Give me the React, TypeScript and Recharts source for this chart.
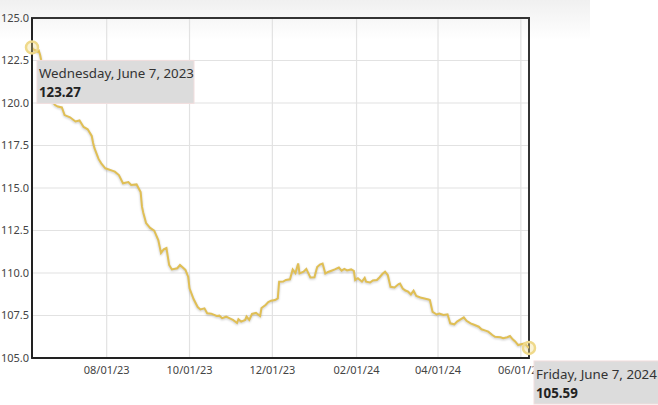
import React from 'react';
import { LineChart, Line, XAxis, YAxis, CartesianGrid, ReferenceDot, ReferenceArea } from 'recharts';

const dates = [
  '2023-06-07','2023-06-08','2023-06-09','2023-06-11','2023-06-12','2023-06-13','2023-06-14','2023-06-15','2023-06-17','2023-06-18',
  '2023-06-21','2023-06-24','2023-06-26','2023-06-29','2023-07-01','2023-07-05','2023-07-09','2023-07-12','2023-07-15','2023-07-18',
  '2023-07-21','2023-07-22','2023-07-23','2023-07-26','2023-07-28','2023-07-31','2023-08-05','2023-08-07','2023-08-10','2023-08-13',
  '2023-08-17','2023-08-19','2023-08-23','2023-08-26','2023-08-27','2023-08-28','2023-08-30','2023-09-02','2023-09-05','2023-09-08',
  '2023-09-10','2023-09-12','2023-09-14','2023-09-16','2023-09-18','2023-09-22','2023-09-24','2023-09-28','2023-09-30','2023-10-01',
  '2023-10-04','2023-10-07','2023-10-09','2023-10-12','2023-10-14','2023-10-17','2023-10-21','2023-10-23','2023-10-25','2023-10-28',
  '2023-10-31','2023-11-02','2023-11-05','2023-11-06','2023-11-08','2023-11-11','2023-11-12','2023-11-14','2023-11-16','2023-11-19',
  '2023-11-22','2023-11-23','2023-11-26','2023-11-28','2023-11-30','2023-12-03','2023-12-05','2023-12-06','2023-12-09','2023-12-11',
  '2023-12-14','2023-12-16','2023-12-18','2023-12-20','2023-12-21','2023-12-24','2023-12-26','2023-12-29','2024-01-01','2024-01-03',
  '2024-01-05','2024-01-07','2024-01-09','2024-01-11','2024-01-14','2024-01-16','2024-01-19','2024-01-21','2024-01-23','2024-01-25',
  '2024-01-28','2024-01-30','2024-01-31','2024-02-02','2024-02-05','2024-02-07','2024-02-08','2024-02-11','2024-02-13','2024-02-16',
  '2024-02-18','2024-02-20','2024-02-22','2024-02-24','2024-02-26','2024-02-29','2024-03-03','2024-03-04','2024-03-06','2024-03-08',
  '2024-03-10','2024-03-12','2024-03-14','2024-03-16','2024-03-19','2024-03-22','2024-03-25','2024-03-26','2024-03-28','2024-03-31',
  '2024-04-02','2024-04-05','2024-04-08','2024-04-10','2024-04-13','2024-04-15','2024-04-17','2024-04-20','2024-04-22','2024-04-25',
  '2024-04-28','2024-05-01','2024-05-03','2024-05-06','2024-05-08','2024-05-11','2024-05-13','2024-05-17','2024-05-19','2024-05-22',
  '2024-05-24','2024-05-26','2024-05-28','2024-05-30','2024-06-02','2024-06-04','2024-06-05','2024-06-07',
];

const values = [
  123.27,123.15,123.12,123.02,123.08,122.82,122.41,121.82,121.06,120.35,
  120.18,119.88,119.79,119.74,119.29,119.16,118.91,118.97,118.59,118.45,
  118.06,117.65,117.34,116.71,116.45,116.16,116.02,115.96,115.76,115.28,
  115.35,115.18,115.21,114.76,113.90,113.53,112.94,112.65,112.49,111.94,
  111.18,111.39,111.47,110.47,110.21,110.28,110.47,110.18,109.78,109.10,
  108.47,108.00,107.86,107.92,107.63,107.61,107.47,107.49,107.34,107.43,
  107.32,107.24,107.06,107.28,107.14,107.24,107.44,107.24,107.59,107.65,
  107.47,107.94,108.12,108.29,108.37,108.41,108.51,109.49,109.50,109.59,
  109.63,110.21,110.00,110.56,109.98,110.08,110.24,109.74,109.75,110.35,
  110.50,110.56,109.97,110.06,110.15,110.21,110.32,110.14,110.24,110.15,
  110.21,110.12,109.59,109.69,109.49,109.71,109.49,109.44,109.56,109.59,
  109.75,109.94,110.08,109.88,109.19,109.15,109.35,109.38,109.09,108.97,
  108.90,108.74,108.96,108.65,108.56,108.50,108.44,108.41,107.71,107.56,
  107.62,107.53,107.57,107.04,106.98,107.14,107.24,107.39,107.19,107.04,
  106.94,106.84,106.69,106.61,106.55,106.35,106.25,106.22,106.16,106.22,
  106.29,106.10,105.96,105.76,105.82,105.86,105.76,105.59,
];

const xTickDates = ['2023-08-01', '2023-10-01', '2023-12-01', '2024-02-01', '2024-04-01', '2024-06-01'];
const yTicks = [105, 107.5, 110, 112.5, 115, 117.5, 120, 122.5, 125];

const toMs = (d: string) => Date.parse(d + 'T00:00:00Z');
const data = dates.map((d, i) => ({ t: toMs(d), v: values[i] }));
const xTicks = xTickDates.map(toMs);
const first = data[0];
const last = data[data.length - 1];

const FONT = '"Noto Sans", "Open Sans", sans-serif';
const LINE_COLOR = '#e0bf55';

const fmtTick = (ms: number) => {
  const d = new Date(ms);
  const mm = String(d.getUTCMonth() + 1).padStart(2, '0');
  const dd = String(d.getUTCDate()).padStart(2, '0');
  const yy = String(d.getUTCFullYear()).slice(2);
  return `${mm}/${dd}/${yy}`;
};

const fmtLong = (ms: number) =>
  new Date(ms).toLocaleDateString('en-US', {
    weekday: 'long', year: 'numeric', month: 'long', day: 'numeric', timeZone: 'UTC',
  });

const makeMarker = (point: { t: number; v: number }) => (props: any) => {
  const { cx, cy } = props;
  if (cx == null || cy == null) return null;
  const bx = cx + 5;
  const by = cy + 13;
  return (
    <g>
      <circle cx={cx} cy={cy} r={6} fill="rgba(240,220,140,0.35)" stroke="#efd98a" strokeWidth={2.5} />
      <rect x={bx} y={by} width={157} height={43} fill="#dcdcdc" stroke="#f2dede" strokeWidth={1} />
      <text x={bx + 2} y={by + 18} fontSize={13.3} fill="#333" fontFamily={FONT}>{fmtLong(point.t)}</text>
      <text x={bx + 2} y={by + 37} fontSize={13.3} fontWeight="bold" fill="#222" fontFamily={FONT}>{point.v.toFixed(2)}</text>
    </g>
  );
};

export default function App() {
  return (
    <div style={{ position: 'absolute', left: 0, top: 0, width: 658, height: 405, background: '#fff' }}>
      <style>{`.shadowline path { filter: drop-shadow(0px 1.5px 1px rgba(0,0,0,0.22)); }`}</style>
      <div style={{ position: 'absolute', left: 0, top: 0, width: 590, height: 40, background: 'linear-gradient(#f0f0f0, #ffffff)' }} />
      <div style={{ position: 'absolute', left: 0, top: 0 }}>
        <LineChart
          width={658}
          height={405}
          data={data}
          margin={{ top: 18, right: 129, bottom: 0, left: 0 }}
          style={{ fontFamily: FONT }}
        >
          <CartesianGrid stroke="#e2e2e2" strokeWidth={1.2} />
          <XAxis
            dataKey="t"
            type="number"
            domain={[first.t, last.t]}
            ticks={xTicks}
            tickFormatter={fmtTick}
            height={47}
            tickSize={0}
            tickMargin={8}
            axisLine={{ stroke: '#222', strokeWidth: 2 }}
            tick={{ fontSize: 11, fill: '#444', fontFamily: FONT }}
            interval={0}
            allowDataOverflow
          />
          <YAxis
            type="number"
            domain={[105, 125]}
            ticks={yTicks}
            tickFormatter={(v: number) => v.toFixed(1)}
            width={32}
            tickSize={0}
            tickMargin={3}
            axisLine={{ stroke: '#222', strokeWidth: 2 }}
            tick={{ fontSize: 11, fill: '#444', fontFamily: FONT }}
            interval={0}
          />
          <ReferenceArea x1={first.t} x2={last.t} y1={105} y2={125} fill="none" stroke="#333" strokeWidth={2} ifOverflow="visible" />
          <Line
            type="linear"
            dataKey="v"
            stroke={LINE_COLOR}
            strokeWidth={2}
            dot={false}
            activeDot={false}
            isAnimationActive={false}
            className="shadowline"
          />
          <ReferenceDot x={first.t} y={first.v} ifOverflow="visible" zIndex={5000} shape={makeMarker(first)} />
          <ReferenceDot x={last.t} y={last.v} ifOverflow="visible" zIndex={5000} shape={makeMarker(last)} />
        </LineChart>
      </div>
    </div>
  );
}
